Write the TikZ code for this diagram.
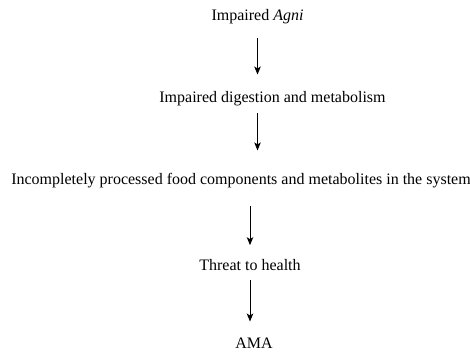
\documentclass[tikz,border=0pt]{standalone}
\usepackage{fontspec}
\setmainfont{Liberation Serif}
\usetikzlibrary{arrows.meta,positioning}

\begin{document}
\begin{tikzpicture}[
        x=1pt, y=1pt,
        stage/.style={inner sep=0pt, font=\fontsize{16}{19}\selectfont},
        arrow/.style={-{Stealth[length=8pt,width=6.5pt,inset=2pt]}, line width=0.9pt}
    ]
    \useasboundingbox (0,0) rectangle (470,-355);

    % Stages
    \node[stage] (agni) at (257.5,-17) {Impaired \textit{Agni}};
    \node[stage] (digest) at (272.5,-99) {Impaired digestion and metabolism};
    \node[stage] (food) at (241,-181) {Incompletely processed food components and metabolites in the system};
    \node[stage] (threat) at (250,-265) {Threat to health};
    \node[stage] (ama) at (254,-343) {AMA};

    % Arrows
    \draw[arrow] ([yshift=-14pt]agni.south) -- ([yshift=17pt]digest.north -| agni.south);
    \draw[arrow] ([yshift=-7pt]digest.south -| agni.south) -- ([yshift=23pt]food.north -| agni.south);
    \draw[arrow] ([yshift=-17pt]food.south -| threat.north) -- ([yshift=14pt]threat.north);
    \draw[arrow] ([yshift=-9pt]threat.south) -- ([yshift=16pt]ama.north -| threat.south);

\end{tikzpicture}
\end{document}
